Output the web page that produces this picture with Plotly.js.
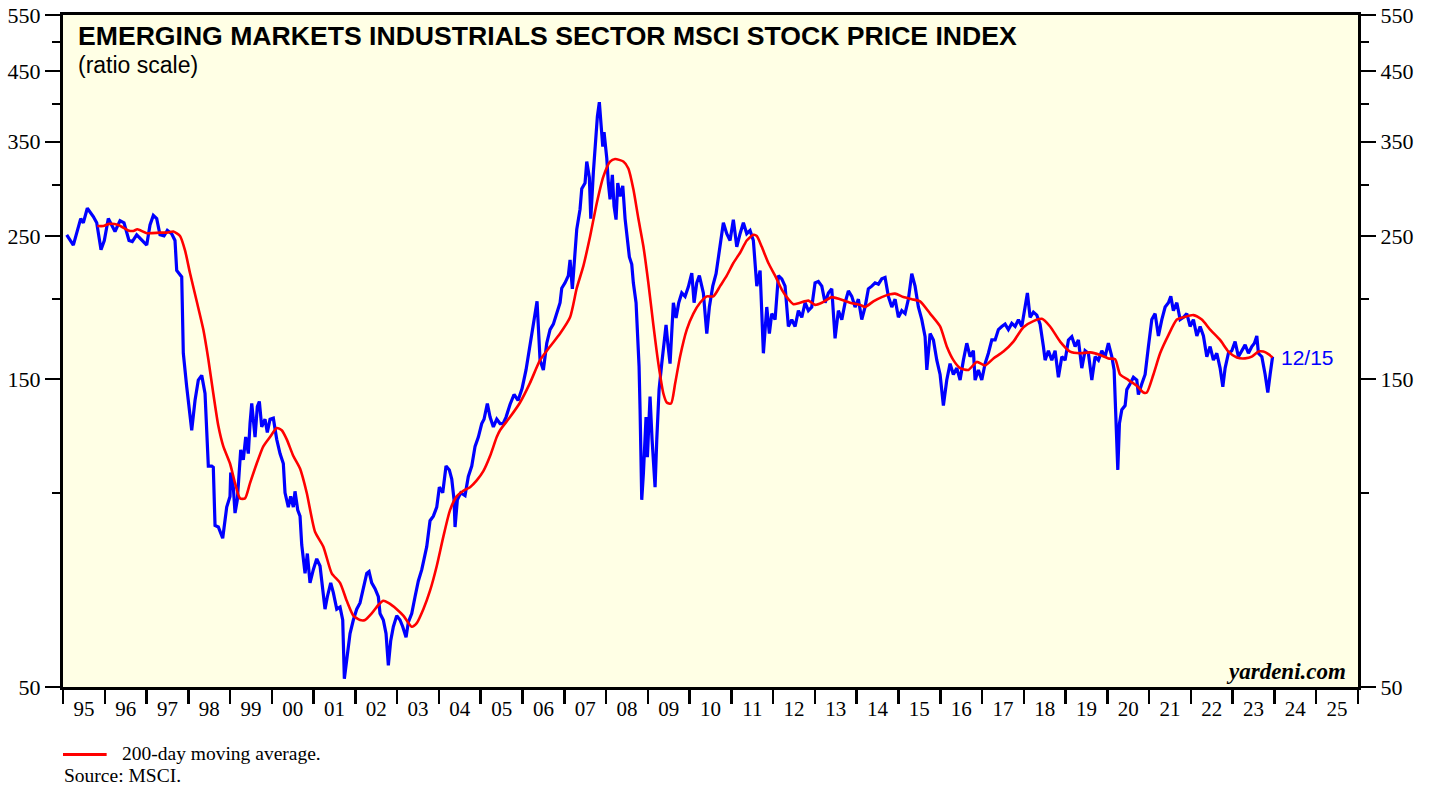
<!DOCTYPE html>
<html>
<head>
<meta charset="utf-8">
<script src="https://cdn.plot.ly/plotly-3.0.1.min.js"></script>
<style>
html,body{margin:0;padding:0;background:#fff;}
#chart{width:1429px;height:786px;}
</style>
</head>
<body>
<div id="chart"></div>
<script>
// ---- Data (decimal years, index level) ----
const indexDates = [
1995.089,1995.247,1995.424,1995.486,1995.582,1995.725,1995.807,1995.910,1995.989,1996.085,
1996.245,1996.365,1996.460,1996.580,1996.659,1996.764,1997.004,1997.083,1997.162,1997.243,
1997.322,1997.418,1997.497,1997.602,1997.681,1997.722,1997.842,1997.880,1997.961,1998.081,
1998.160,1998.239,1998.321,1998.400,1998.479,1998.560,1998.598,1998.639,1998.718,1998.823,
1998.919,1998.998,1999.015,1999.077,1999.118,1999.173,1999.254,1999.316,1999.374,1999.436,
1999.477,1999.518,1999.597,1999.652,1999.700,1999.757,1999.836,1999.891,1999.956,2000.035,
2000.116,2000.195,2000.274,2000.315,2000.394,2000.451,2000.514,2000.554,2000.619,2000.674,
2000.715,2000.794,2000.849,2000.913,2000.992,2001.074,2001.153,2001.217,2001.272,2001.328,
2001.409,2001.471,2001.553,2001.632,2001.696,2001.735,2001.792,2001.871,2001.950,2002.031,
2002.110,2002.189,2002.271,2002.326,2002.390,2002.470,2002.549,2002.589,2002.668,2002.733,
2002.788,2002.845,2002.908,2002.989,2003.068,2003.133,2003.212,2003.267,2003.348,2003.427,
2003.506,2003.588,2003.643,2003.707,2003.786,2003.865,2003.947,2004.009,2004.090,2004.169,
2004.248,2004.306,2004.361,2004.385,2004.440,2004.521,2004.624,2004.703,2004.785,2004.864,
2004.943,2005.024,2005.079,2005.158,2005.223,2005.302,2005.383,2005.462,2005.534,2005.606,
2005.701,2005.797,2005.893,2005.989,2006.084,2006.180,2006.276,2006.348,2006.420,2006.499,
2006.580,2006.659,2006.738,2006.820,2006.899,2006.939,2007.018,2007.097,2007.138,2007.193,
2007.258,2007.298,2007.377,2007.418,2007.497,2007.538,2007.600,2007.634,2007.696,2007.736,
2007.792,2007.839,2007.873,2007.921,2007.952,2008.017,2008.055,2008.096,2008.151,2008.191,
2008.239,2008.280,2008.335,2008.400,2008.455,2008.510,2008.558,2008.615,2008.653,2008.718,
2008.749,2008.790,2008.814,2008.838,2008.854,2008.893,2008.957,2008.989,2009.053,2009.101,
2009.173,2009.214,2009.269,2009.333,2009.388,2009.436,2009.477,2009.532,2009.611,2009.676,
2009.740,2009.812,2009.891,2009.970,2010.052,2010.107,2010.171,2010.233,2010.329,2010.411,
2010.473,2010.554,2010.633,2010.729,2010.808,2010.889,2010.968,2011.047,2011.129,2011.208,
2011.287,2011.368,2011.447,2011.526,2011.608,2011.687,2011.766,2011.847,2011.909,2011.967,
2012.046,2012.125,2012.206,2012.285,2012.364,2012.446,2012.525,2012.604,2012.685,2012.764,
2012.843,2012.924,2013.003,2013.082,2013.164,2013.243,2013.322,2013.403,2013.482,2013.561,
2013.643,2013.722,2013.801,2013.882,2013.961,2014.040,2014.121,2014.200,2014.279,2014.361,
2014.440,2014.519,2014.600,2014.679,2014.758,2014.840,2014.919,2014.998,2015.079,2015.158,
2015.237,2015.318,2015.397,2015.476,2015.558,2015.637,2015.678,2015.757,2015.836,2015.917,
2015.996,2016.075,2016.156,2016.235,2016.314,2016.396,2016.475,2016.554,2016.635,2016.714,
2016.793,2016.834,2016.913,2016.994,2017.073,2017.152,2017.234,2017.313,2017.392,2017.473,
2017.552,2017.631,2017.712,2017.792,2017.871,2017.952,2018.031,2018.086,2018.151,2018.230,
2018.311,2018.390,2018.469,2018.510,2018.589,2018.670,2018.749,2018.828,2018.910,2018.989,
2019.068,2019.149,2019.228,2019.307,2019.388,2019.467,2019.546,2019.628,2019.707,2019.786,
2019.867,2019.946,2020.025,2020.107,2020.162,2020.202,2020.226,2020.250,2020.289,2020.346,
2020.425,2020.466,2020.545,2020.624,2020.705,2020.743,2020.825,2020.904,2020.983,2021.064,
2021.143,2021.222,2021.304,2021.383,2021.462,2021.519,2021.581,2021.663,2021.742,2021.821,
2021.902,2021.981,2022.060,2022.142,2022.221,2022.300,2022.381,2022.460,2022.539,2022.620,
2022.699,2022.764,2022.819,2022.898,2022.979,2023.058,2023.137,2023.219,2023.298,2023.377,
2023.458,2023.520,2023.578,2023.616,2023.698,2023.777,2023.841,2023.896,2023.935,2023.955
];
const indexValues = [
251,242,266,262,276,268,262,238,246,266,
254,264,262,246,245,251,242,260,269,266,
251,250,255,252,246,221,216,164.5,146,125,
139,149.5,152,142.5,110,110,109.5,89,88.5,85,
95,98.7,107.5,102,93,97.5,116.5,112.5,122,115,
128,137.5,122,136,138.5,126.5,130,124,130,130.5,
121,115,111,100,95,98.7,95,100.5,94,92,
83,75,80.5,72.5,76,79,77,70,66,69,
72.5,70,66,66.5,63.5,51.5,55.5,60.5,63.5,66,
67.5,71,75,75.5,72.5,71,69,65,63.5,60.5,
54,59,62,64.5,63.5,62,59.7,63,65,69,
73,76,79.5,82.5,90.5,92,95,102,100,110,
108.5,105,97.5,88.5,97.5,100,99,106,110,118,
122,128,130,137.5,131,126.5,130,128,128,131,
137,142,139,145,155,170,185,198,160.5,155,
170.5,179,182.5,189.5,197,207.5,211.5,217,229.5,207,
232,256,275,296,302,326,308,266,314,344,
383,403,376,344,362,330,302,285,311,278,
265,302,288,299,266,249.5,232,226,211.5,197,
179,157,134.5,113.5,97.5,107,131,113.5,141,121,
102,121,144.5,158.5,170.5,182,170.5,158.5,197,186.5,
197,204,201.5,208.5,219,197,211.5,217,204,176.5,
194,209,218.5,240.5,262,252,246,265,240.5,252,
262,252,255,246,209,221,164.5,194,176.5,189.5,
185.5,217,214.5,209,181,185.5,181,191.5,187,197,
191.5,194,211.5,212.5,209,197,204,207,173.5,191.5,
185.5,197,205.5,201.5,194,199.5,185.5,194,207,209,
211.5,210.5,214.5,215.5,201.5,194,199.5,187,191.5,189.5,
199.5,218.5,209,194,185.5,174.5,155,176.5,172.5,160.5,
152.5,136.5,149.5,158.5,152.5,156,149.5,160.5,170.5,162.5,
166,149.5,155,149.5,158.5,164.5,172.5,172.5,179,181,
182.5,179,183,181,185.5,181,194,204,187,190.5,
188.5,182.5,168.5,160.5,166,160.5,166,151,162.5,160.5,
172.5,174.5,168.5,172.5,156,166,164.5,149.5,162.5,160.5,
166,162.5,170.5,162.5,155,133,118,108.5,128,134.5,
136.5,144.5,147.5,151,149.5,142,147.5,152.5,168.5,185.5,
189.5,175,185.5,194,197,201.5,191.5,197,185.5,187,
189.5,181,185.5,175,181,175,162.5,168.5,160.5,164.5,
156,146,156,164.5,166,171.5,162.5,166,169.5,164.5,
168.5,170.5,175,164.5,162.5,152.5,143,152.5,158.5,162.5
];
const maDates = [
1995.821,1995.965,1996.108,1996.324,1996.563,1996.683,1996.779,1997.004,1997.322,1997.483,
1997.641,1997.801,1997.921,1998.040,1998.201,1998.359,1998.479,1998.598,1998.718,1998.838,
1998.998,1999.118,1999.238,1999.357,1999.477,1999.637,1999.795,1999.956,2000.116,2000.236,
2000.356,2000.514,2000.674,2000.834,2001.033,2001.232,2001.433,2001.632,2001.792,2001.950,
2002.110,2002.230,2002.390,2002.549,2002.668,2002.788,2002.989,2003.147,2003.348,2003.468,
2003.626,2003.786,2003.947,2004.105,2004.265,2004.425,2004.583,2004.744,2004.904,2005.062,
2005.223,2005.383,2005.462,2005.701,2005.941,2006.180,2006.420,2006.659,2006.899,2007.138,
2007.298,2007.456,2007.617,2007.777,2007.935,2008.096,2008.215,2008.414,2008.534,2008.653,
2008.773,2008.893,2009.012,2009.132,2009.252,2009.372,2009.453,2009.556,2009.652,2009.771,
2009.932,2010.090,2010.250,2010.411,2010.569,2010.729,2010.889,2011.047,2011.208,2011.368,
2011.526,2011.608,2011.727,2011.885,2012.046,2012.206,2012.364,2012.484,2012.644,2012.843,
2013.003,2013.164,2013.403,2013.602,2013.841,2014.081,2014.200,2014.399,2014.600,2014.799,
2014.919,2015.117,2015.318,2015.517,2015.757,2015.996,2016.156,2016.314,2016.475,2016.673,
2016.875,2017.073,2017.272,2017.511,2017.751,2017.990,2018.230,2018.431,2018.629,2018.869,
2019.108,2019.348,2019.587,2019.826,2020.025,2020.186,2020.305,2020.504,2020.705,2020.863,
2020.945,2021.103,2021.263,2021.462,2021.663,2021.821,2022.060,2022.261,2022.460,2022.699,
2022.898,2023.099,2023.298,2023.458,2023.616,2023.736,2023.856,2023.955
];
const maValues = [
259,259,261,260,255,254.5,256,252.5,253,253,
254,250,237.5,219,198,179,161,142.5,127,118,
111,103.5,98,98,103.5,111,118,122,126,125,
121,114,109,100,87,82.5,75,72.5,68,64.5,
63.5,63.5,65,67,68,67.5,66,64.5,62,62.8,
66,70.5,77,85.5,94,98.7,100.7,102,104.5,108,
114,122,125,131,138,148,160.5,168.5,176.5,187,
207.5,224.5,249.5,281,309,326,329,326,318,295.5,
266,241,211.5,182,158.5,142.5,138,137.5,147.5,162.5,
179,189.5,197,201.5,201.5,209,217,227,235.5,246,
251,250,240.5,227,217,206.5,199.5,196,197,198.5,
195.5,197,201,199.5,197,195.5,194,198,201,203,
203.5,201,199.5,198,189.5,181,168.5,160.5,156,155,
159.5,157.5,161.5,165.5,171.5,180.5,184.5,186,181,171.5,
165.5,164.5,165,163.5,161.5,161,152.5,149.5,146.5,143,
143,152.5,164.5,175.5,185.5,187,188.5,185.5,179,172.5,
165.5,162,161.5,162.5,165.5,165.5,164,162
];
const yTickVals = [50,150,250,350,450,550];
const yTickText = ['50','150','250','350','450','550'];
const yMinorVals = [100,200,300,400,500];
const xLabelText = ['95','96','97','98','99','00','01','02','03','04','05','06','07','08','09','10',
                    '11','12','13','14','15','16','17','18','19','20','21','22','23','24','25'];
const xLabelVals = [];
const xTickVals = [];
for (let i = 0; i < xLabelText.length; i++) { xLabelVals.push(1995.5 + i); xTickVals.push(1995 + i); }
xTickVals.push(1995 + xLabelText.length);

const serif = 'Liberation Serif, Times New Roman, serif';
const sans = 'Liberation Sans, Arial, sans-serif';

const traces = [
  {x: indexDates, y: indexValues, type: 'scatter', mode: 'lines',
   line: {color: '#0000ff', width: 3.2}, xaxis: 'x', yaxis: 'y', hoverinfo: 'skip', showlegend: false},
  {x: maDates, y: maValues, type: 'scatter', mode: 'lines',
   line: {color: '#ff0000', width: 2.6, shape: 'spline', smoothing: 0.6}, xaxis: 'x', yaxis: 'y2', hoverinfo: 'skip', showlegend: false}
];

const yRange = [Math.log10(50), Math.log10(550)];
const yCommon = {
  type: 'log', range: yRange, autorange: false, fixedrange: true,
  tickmode: 'array', tickvals: yTickVals, ticktext: yTickText,
  ticks: 'outside', ticklen: 15, tickwidth: 2, tickcolor: '#000',
  minor: {tickmode: 'array', tickvals: yMinorVals, ticks: 'outside', ticklen: 8, tickwidth: 2, tickcolor: '#000', showgrid: false},
  showgrid: false, zeroline: false,
  showline: true, linecolor: '#000', linewidth: 3,
  tickfont: {family: serif, size: 22, color: '#000'},
  ticklabelstandoff: 0
};

const layout = {
  width: 1429, height: 786,
  margin: {l: 63, r: 71, t: 15, b: 99, pad: 0},
  paper_bgcolor: '#ffffff',
  plot_bgcolor: '#ffffe5',
  showlegend: false,
  xaxis: {
    type: 'linear', range: [1995, 2026], autorange: false, fixedrange: true,
    tickmode: 'array', tickvals: xLabelVals, ticktext: xLabelText,
    ticks: '', showgrid: false, zeroline: false,
    minor: {tickmode: 'array', tickvals: xTickVals, ticks: 'outside', ticklen: 14, tickwidth: 2.5, tickcolor: '#000', showgrid: false},
    showline: true, linecolor: '#000', linewidth: 3, mirror: true,
    tickfont: {family: serif, size: 21, color: '#000'},
    ticklabelstandoff: 1
  },
  yaxis: Object.assign({}, yCommon, {side: 'left', mirror: false}),
  yaxis2: Object.assign({}, yCommon, {side: 'right', overlaying: 'y', anchor: 'x'}),
  annotations: [
    {text: '<b>EMERGING MARKETS INDUSTRIALS SECTOR MSCI STOCK PRICE INDEX</b>', xref: 'paper', yref: 'paper',
     x: 0.0100, y: 0.969, xanchor: 'left', yanchor: 'middle', showarrow: false,
     font: {family: sans, size: 26.6, color: '#000'}},
    {text: '(ratio scale)', xref: 'paper', yref: 'paper',
     x: 0.0100, y: 0.926, xanchor: 'left', yanchor: 'middle', showarrow: false,
     font: {family: sans, size: 23, color: '#000'}},
    {text: '<b><i>yardeni.com</i></b>', xref: 'paper', yref: 'paper',
     x: 0.9925, y: 0.0238, xanchor: 'right', yanchor: 'middle', showarrow: false,
     font: {family: serif, size: 23, color: '#000'}},
    {text: '12/15', xref: 'paper', yref: 'paper',
     x: 0.9388, y: 0.4906, xanchor: 'left', yanchor: 'middle', showarrow: false,
     font: {family: sans, size: 21, color: '#0000ff'}},
    {text: '200-day moving average.', xref: 'paper', yref: 'paper',
     x: 0.044, y: -0.0987, xanchor: 'left', yanchor: 'middle', showarrow: false,
     font: {family: serif, size: 19.5, color: '#000'}},
    {text: 'Source: MSCI.', xref: 'paper', yref: 'paper',
     x: -0.001, y: -0.1315, xanchor: 'left', yanchor: 'middle', showarrow: false,
     font: {family: serif, size: 19.5, color: '#000'}}
  ],
  shapes: [
    {type: 'line', xref: 'paper', yref: 'paper', x0: 0, x1: 0.0337, y0: -0.1004, y1: -0.1004,
     line: {color: '#ff0000', width: 3}}
  ]
};

Plotly.newPlot('chart', traces, layout, {displayModeBar: false, staticPlot: true});
</script>
</body>
</html>
